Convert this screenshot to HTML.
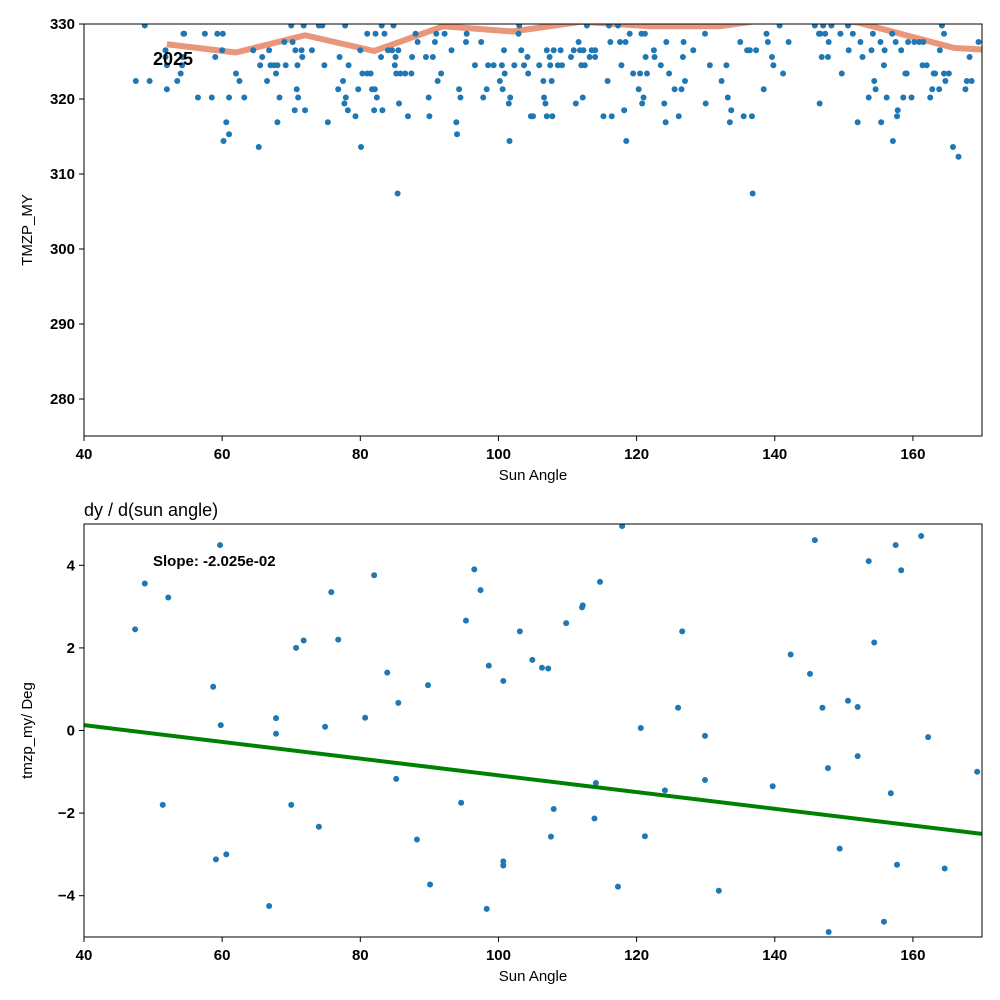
<!DOCTYPE html>
<html><head><meta charset="utf-8">
<style>
html,body{margin:0;padding:0;background:#fff;}
svg{display:block;font-family:"Liberation Sans","DejaVu Sans",sans-serif;}
</style></head>
<body>
<svg id="chart" width="1000" height="1000" viewBox="0 0 1000 1000" xmlns="http://www.w3.org/2000/svg">
<rect width="1000" height="1000" fill="#fff"/>
<g id="top"></g>
<g id="bot"></g>
</svg>
<script>
const xTicks=[40,60,80,100,120,140,160];
const topYTicks=[280,290,300,310,320,330];
const botYTicks=[-4,-2,0,2,4];
const trendX=[52,62,72,82,92,102,112,122,132,142,152,166,170];
const trendY=[327.3,326.2,328.5,326.4,329.7,329.0,330.3,329.7,329.7,331.0,330.2,326.8,326.6];
const topPts=[[47.5,322.4],[48.8,329.8],[49.5,322.4],[51.8,326.5],[51.8,325.6],[52,324.5],[52,321.3],[53.5,322.4],[54,323.4],[54.2,324.5],[54.3,325.6],[54.4,328.7],[54.5,328.7],[56.5,320.2],[57.5,328.7],[58.5,320.2],[59,325.6],[59.3,328.7],[60,326.5],[60.1,328.7],[60.2,314.4],[60.6,316.9],[61,315.3],[61,320.2],[62,323.4],[62.5,322.4],[63.2,320.2],[64.5,326.5],[65.3,313.6],[65.5,324.5],[65.8,325.6],[66.5,322.4],[66.8,326.5],[67,324.5],[67.5,324.5],[67.8,323.4],[68,316.9],[68,324.5],[68.3,320.2],[69,327.6],[69.2,324.5],[70,329.8],[70.2,327.6],[70.5,318.5],[70.6,326.5],[70.8,321.3],[70.9,324.5],[71,320.2],[71.5,326.5],[71.6,325.6],[71.8,329.8],[72,318.5],[73,326.5],[74,329.8],[74.5,329.8],[74.8,324.5],[75.3,316.9],[76.8,321.3],[77,325.6],[77.5,322.4],[77.7,319.4],[77.8,329.8],[77.9,320.2],[78.2,318.5],[78.3,324.5],[79.3,317.7],[79.7,321.3],[80,326.5],[80.1,313.6],[80.3,323.4],[81,323.4],[81,328.7],[81.5,323.4],[81.7,321.3],[82,318.5],[82.1,321.3],[82.2,328.7],[82.4,320.2],[83,325.6],[83.1,329.8],[83.2,318.5],[83.5,328.7],[84,326.5],[84.6,326.5],[84.8,329.8],[85,324.5],[85.1,325.6],[85.2,323.4],[85.4,307.4],[85.5,326.5],[85.6,319.4],[85.8,323.4],[86.5,323.4],[86.9,317.7],[87.4,323.4],[87.5,325.6],[88,328.7],[88.3,327.6],[89.5,325.6],[89.9,320.2],[90,317.7],[90.5,325.6],[90.8,327.6],[91,328.7],[91.2,322.4],[91.7,323.4],[92.2,328.7],[93.2,326.5],[93.9,316.9],[94,315.3],[94.3,321.3],[94.5,320.2],[95.3,327.6],[95.4,328.7],[96.6,324.5],[97.5,327.6],[97.8,320.2],[98.3,321.3],[98.5,324.5],[99.3,324.5],[100.2,322.4],[100.5,324.5],[100.6,321.3],[100.8,326.5],[100.9,323.4],[101.5,319.4],[101.6,314.4],[101.7,320.2],[102.3,324.5],[102.9,328.7],[103,329.8],[103.3,326.5],[103.7,324.5],[104.2,325.6],[104.3,323.4],[104.7,317.7],[105,317.7],[105.9,324.5],[106.5,322.4],[106.6,320.2],[106.8,319.4],[107,326.5],[107,317.7],[107.4,325.6],[107.5,324.5],[107.7,322.4],[107.8,317.7],[108,326.5],[108.6,324.5],[109,326.5],[109.2,324.5],[110.5,325.6],[110.9,326.5],[111.2,319.4],[111.6,327.6],[111.8,326.5],[112,324.5],[112.2,320.2],[112.3,326.5],[112.5,324.5],[112.8,329.8],[113.2,325.6],[113.5,326.5],[114,326.5],[114,325.6],[115.2,317.7],[115.8,322.4],[116,329.8],[116.2,327.6],[116.4,317.7],[117.3,329.8],[117.6,327.6],[117.8,324.5],[118.2,318.5],[118.4,327.6],[118.5,314.4],[119,328.7],[119.5,323.4],[120.3,321.3],[120.5,323.4],[120.7,328.7],[120.8,319.4],[121,320.2],[121.2,328.7],[121.3,325.6],[121.5,323.4],[122.5,326.5],[122.6,325.6],[123.5,324.5],[124,319.4],[124.2,316.9],[124.3,327.6],[124.7,323.4],[125.5,321.3],[126.1,317.7],[126.5,321.3],[126.7,325.6],[126.8,327.6],[127,322.4],[128.2,326.5],[129.9,328.7],[130,319.4],[130.6,324.5],[132.3,322.4],[133,324.5],[133.2,320.2],[133.5,316.9],[133.7,318.5],[135,327.6],[135.5,317.7],[136,326.5],[136.4,326.5],[136.7,317.7],[136.8,307.4],[137.3,326.5],[138.4,321.3],[138.8,328.7],[139,327.6],[139.6,325.6],[139.8,324.5],[140.7,329.8],[141.2,323.4],[142,327.6],[145.8,329.8],[146.4,328.7],[146.5,319.4],[146.6,328.7],[146.8,325.6],[147,329.8],[147.3,328.7],[147.7,325.6],[147.8,327.6],[148.2,329.8],[149.5,328.7],[149.7,323.4],[150.6,329.8],[150.7,326.5],[151.3,328.7],[152,316.9],[152.4,327.6],[152.7,325.6],[153.6,320.2],[154,326.5],[154.2,328.7],[154.4,322.4],[154.6,321.3],[155.3,327.6],[155.4,316.9],[155.8,324.5],[155.9,326.5],[156.2,320.2],[157,328.7],[157.1,314.4],[157.5,327.6],[157.7,317.7],[157.8,318.5],[158.3,326.5],[158.6,320.2],[158.9,323.4],[159.1,323.4],[159.3,327.6],[159.8,320.2],[160.2,327.6],[160.9,327.6],[161.4,324.5],[161.5,327.6],[162,324.5],[162.5,320.2],[162.8,321.3],[163,323.4],[163.2,323.4],[163.8,321.3],[163.9,326.5],[164.2,329.8],[164.5,328.7],[164.5,323.4],[164.7,322.4],[165.2,323.4],[165.8,313.6],[166.6,312.3],[167.6,321.3],[167.8,322.4],[168.2,325.6],[168.5,322.4],[169.5,327.6]];
const botX=[47.4,48.8,52.2,51.4,58.7,59.1,59.7,59.8,60.6,66.8,67.8,67.8,70.0,70.7,71.8,74.0,74.9,75.8,76.8,80.7,82.0,83.9,85.2,85.5,88.2,89.8,90.1,94.6,95.3,96.5,97.4,98.3,98.6,100.7,100.7,100.7,103.1,104.9,106.3,107.2,107.6,108.0,109.8,112.1,112.2,114.1,113.9,114.7,117.3,117.9,120.6,121.2,124.1,126.0,126.6,129.9,129.9,131.9,139.7,142.3,145.1,145.8,146.9,147.7,147.8,149.4,150.6,152.0,152.0,153.6,154.4,155.8,156.8,157.5,157.7,158.3,161.2,162.2,164.6,169.3];
const botY=[2.45,3.56,3.22,-1.8,1.06,-3.12,4.49,0.13,-3.0,-4.25,0.30,-0.08,-1.8,2.0,2.18,-2.33,0.09,3.35,2.2,0.31,3.76,1.4,-1.17,0.67,-2.64,1.1,-3.73,-1.75,2.66,3.9,3.4,-4.32,1.57,1.2,-3.17,-3.27,2.4,1.71,1.52,1.5,-2.57,-1.9,2.6,2.98,3.03,-1.27,-2.13,3.6,-3.78,4.95,0.06,-2.56,-1.45,0.55,2.4,-0.13,-1.2,-3.88,-1.35,1.84,1.37,4.61,0.55,-0.91,-4.88,-2.86,0.72,0.57,-0.62,4.1,2.13,-4.63,-1.52,4.49,-3.25,3.88,4.71,-0.16,-3.34,-1.0];
const slope=-2.025e-2, intercept=0.94;

const NS="http://www.w3.org/2000/svg";
function mk(tag,attrs,parent){const e=document.createElementNS(NS,tag);for(const k in attrs)e.setAttribute(k,attrs[k]);parent.appendChild(e);return e;}
const L=84,R=982;
const sx=v=>L+(v-40)/130*(R-L);
function panel(g,top,bot,y0,y1,yTicks,yLabel,idp){
  const sy=v=>bot-(v-y0)/(y1-y0)*(bot-top);
  const cp=mk('clipPath',{id:'clip'+idp},g);mk('rect',{x:L,y:top,width:R-L,height:bot-top},cp);
  const inner=mk('g',{'clip-path':'url(#clip'+idp+')'},g);
  xTicks.forEach(t=>{const x=sx(t);
    const tk=mk('line',{x1:x,x2:x,y1:bot,y2:bot+5,stroke:'#000','stroke-width':1},g);
    
    
    const tl=mk('text',{x:x,y:bot+23,'text-anchor':'middle','font-size':15,'font-weight':'bold'},g);tl.textContent=t;
    
    
  });
  yTicks.forEach(t=>{const y=sy(t);
    const tk=mk('line',{x1:L-5,x2:L,y1:y,y2:y,stroke:'#000','stroke-width':1},g);
    
    
    const tl=mk('text',{x:L-9,y:y+5,'text-anchor':'end','font-size':15,'font-weight':'bold'},g);tl.textContent=t<0?'\u2212'+(-t):t;
    
    
  });
  const xl=mk('text',{x:(L+R)/2,y:bot+44,'text-anchor':'middle','font-size':15},g);xl.textContent='Sun Angle';
  
  
  const yl=mk('text',{x:0,y:0,'text-anchor':'middle','font-size':15,transform:`translate(${L-52},${(top+bot)/2}) rotate(-90)`},g);yl.textContent=yLabel;
  
  
  return {sy,inner};
}
const T=panel(document.getElementById('top'),24,436,275.07,330,topYTicks,'TMZP_MY','t');
const tl=mk('polyline',{points:trendX.map((x,i)=>sx(x)+','+T.sy(trendY[i])).join(' '),fill:'none',stroke:'#e9967a','stroke-width':6,'stroke-linejoin':'round'},T.inner);


topPts.forEach(p=>{const c=mk('circle',{cx:sx(p[0]),cy:T.sy(p[1]),r:3,fill:'#1f77b4'},T.inner);
  
  });
mk('rect',{x:L,y:24,width:R-L,height:412,fill:'none',stroke:'#000','stroke-width':1},document.getElementById('top'));
const lab=mk('text',{x:153,y:65,'font-size':18,'font-weight':'bold'},document.getElementById('top'));lab.textContent='2025';



const B=panel(document.getElementById('bot'),524,937,-5,5,botYTicks,'tmzp_my/ Deg','b');
botX.forEach((x,i)=>{const c=mk('circle',{cx:sx(x),cy:B.sy(botY[i]),r:3,fill:'#1f77b4'},B.inner);
  
  });
const fl=mk('line',{x1:sx(40),y1:B.sy(intercept+slope*40),x2:sx(170),y2:B.sy(intercept+slope*170),stroke:'#008000','stroke-width':4},B.inner);


mk('rect',{x:L,y:524,width:R-L,height:413,fill:'none',stroke:'#000','stroke-width':1},document.getElementById('bot'));
const st=mk('text',{x:153,y:566,'font-size':15,'font-weight':'bold'},document.getElementById('bot'));st.textContent='Slope: -2.025e-02';


const ti=mk('text',{x:84,y:516,'font-size':18},document.getElementById('bot'));ti.textContent='dy / d(sun angle)';


</script>
</body></html>
